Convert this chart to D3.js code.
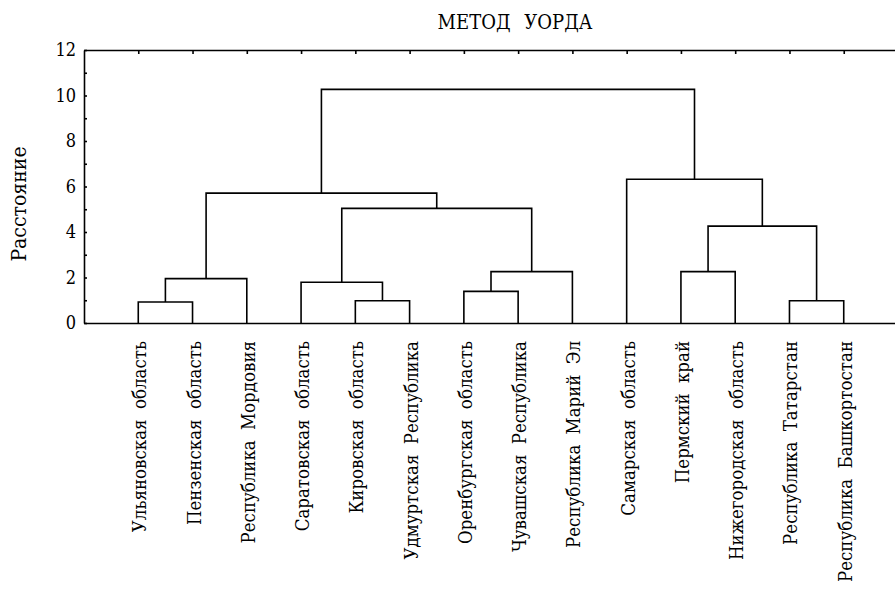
<!DOCTYPE html>
<html>
<head>
<meta charset="utf-8">
<script src="https://cdn.jsdelivr.net/npm/d3@7"></script>
<style>
  html, body { margin: 0; padding: 0; background: #fff; }
  svg { display: block; }
</style>
</head>
<body>
<svg id="chart" width="895" height="591"></svg>
<script>
// ---- Data ----
const leaves = [
  "Ульяновская область",
  "Пензенская область",
  "Республика Мордовия",
  "Саратовская область",
  "Кировская область",
  "Удмуртская Республика",
  "Оренбургская область",
  "Чувашская Республика",
  "Республика Марий Эл",
  "Самарская область",
  "Пермский край",
  "Нижегородская область",
  "Республика Татарстан",
  "Республика Башкортостан"
];
// merges: new cluster id = leaves.length + index; [left, right, distance]
const mergeLeft   = [0, 4, 12, 6, 3, 14, 17, 10, 21, 18, 19, 9, 24];
const mergeRight  = [1, 5, 13, 7, 15, 2, 8, 11, 16, 20, 23, 22, 25];
const mergeHeight = [0.92, 0.98, 0.98, 1.39, 1.79, 1.95, 2.26, 2.26, 4.26, 5.04, 5.71, 6.32, 10.27];
const yTicks = [0, 2, 4, 6, 8, 10, 12];
const yMinorTicks = [1, 3, 5, 7, 9, 11];
const titleText = "МЕТОД УОРДА";
const yLabel = "Расстояние";

// ---- Layout ----
const FONT = "DejaVu Serif";
const svg = d3.select("#chart");
const mLeft = 84, mTop = 50, mBottom = 323, mRight = 898;

const x = d3.scalePoint().domain(d3.range(leaves.length)).range([mLeft, mRight]).padding(1);
const y = d3.scaleLinear().domain([0, 12]).range([mBottom, mTop]);

const nodeX = {}, nodeH = {};
leaves.forEach((d, i) => { nodeX[i] = x(i); nodeH[i] = 0; });
const links = mergeLeft.map((l, k) => {
  const id = leaves.length + k;
  const r = mergeRight[k], h = mergeHeight[k];
  nodeX[id] = (nodeX[l] + nodeX[r]) / 2;
  nodeH[id] = h;
  return { l, r, h };
});

const stroke = 1.6;

const yAxis = d3.axisLeft(y).tickValues(yTicks).tickSizeInner(-3).tickSizeOuter(0).tickPadding(8);
const gy = svg.append("g").attr("transform", `translate(${mLeft},0)`).call(yAxis)
  .attr("font-family", FONT).attr("font-size", 18).attr("font-stretch", "condensed");
gy.select(".domain").attr("stroke-width", stroke);
gy.selectAll(".tick line").attr("stroke-width", stroke);

const yMinor = d3.axisLeft(y).tickValues(yMinorTicks).tickSizeInner(-3).tickSizeOuter(0).tickFormat("");
const gym = svg.append("g").attr("transform", `translate(${mLeft},0)`).call(yMinor);
gym.select(".domain").remove();
gym.selectAll(".tick line").attr("stroke-width", stroke);

const xTop = d3.axisTop(x).tickSizeInner(-4).tickSizeOuter(0).tickFormat("");
const gt = svg.append("g").attr("transform", `translate(0,${mTop})`).call(xTop);
gt.select(".domain").attr("stroke-width", stroke);
gt.selectAll(".tick line").attr("stroke-width", stroke);

const xBottom = d3.axisBottom(x).tickSize(0).tickFormat("");
const gb = svg.append("g").attr("transform", `translate(0,${mBottom})`).call(xBottom);
gb.select(".domain").attr("stroke-width", stroke);

svg.append("g").selectAll("path").data(links).join("path")
  .attr("fill", "none").attr("stroke", "#000").attr("stroke-width", stroke)
  .attr("d", d => `M${nodeX[d.l]},${y(nodeH[d.l])}V${y(d.h)}H${nodeX[d.r]}V${y(nodeH[d.r])}`);

svg.append("g").selectAll("text").data(leaves).join("text")
  .attr("transform", (d, i) => `translate(${x(i) + 8},341) rotate(-90)`)
  .attr("text-anchor", "end")
  .attr("font-family", FONT)
  .attr("font-stretch", "condensed")
  .attr("font-size", 18.5)
  .attr("word-spacing", 5)
  .text(d => d);

svg.append("text").attr("x", 515).attr("y", 29).attr("text-anchor", "middle")
  .attr("font-family", FONT).attr("font-stretch", "condensed")
  .attr("font-size", 20).attr("word-spacing", 8).text(titleText);

svg.append("text").attr("transform", "translate(26,204) rotate(-90)").attr("text-anchor", "middle")
  .attr("font-family", FONT).attr("font-stretch", "condensed").attr("font-size", 21).text(yLabel);
</script>
</body>
</html>
